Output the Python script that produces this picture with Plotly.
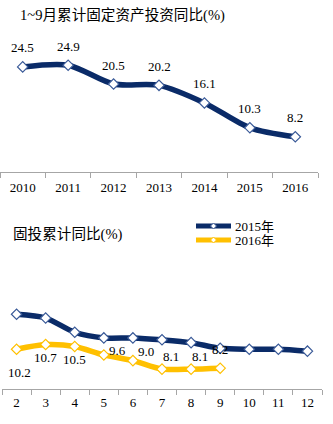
import plotly.graph_objects as go

# Top chart data
years = ["2010", "2011", "2012", "2013", "2014", "2015", "2016"]
fai_jan_sep = [24.5, 24.9, 20.5, 20.2, 16.1, 10.3, 8.2]

# Bottom chart data
months = ["2", "3", "4", "5", "6", "7", "8", "9", "10", "11", "12"]
fai_2015 = [13.9, 13.5, 12.0, 11.4, 11.4, 11.2, 10.9, 10.3, 10.2, 10.2, 10.0]
fai_2016 = [10.2, 10.7, 10.5, 9.6, 9.0, 8.1, 8.1, 8.2]
series_names = ["2015年", "2016年"]

title_top = "1~9月累计固定资产投资同比(%)"
title_bottom = "固投累计同比(%)"

NAVY = "#0a2b68"
GOLD = "#ffc000"
FONT = "Liberation Serif, Noto Sans CJK SC, serif"
W, H = 333, 424

def py(p):
    return 1 - p / H

def px(p):
    return p / W

fig = go.Figure()

fig.add_trace(go.Scatter(
    x=years, y=fai_jan_sep, mode="lines+markers",
    line=dict(color=NAVY, width=5.5, shape="spline", smoothing=0.8),
    marker=dict(symbol="diamond", size=8, color="white", line=dict(color="#3a5a98", width=1.2)),
    xaxis="x", yaxis="y", showlegend=False,
))

fig.add_trace(go.Scatter(
    x=months, y=fai_2015, mode="lines+markers", name=series_names[0],
    line=dict(color=NAVY, width=5.5, shape="spline", smoothing=0.8),
    marker=dict(symbol="diamond", size=8, color="white", line=dict(color="#3a5a98", width=1.2)),
    xaxis="x2", yaxis="y2", showlegend=False,
))
fig.add_trace(go.Scatter(
    x=months[:len(fai_2016)], y=fai_2016, mode="lines+markers", name=series_names[1],
    line=dict(color=GOLD, width=5.5, shape="spline", smoothing=0.8),
    marker=dict(symbol="diamond", size=8, color="white", line=dict(color=GOLD, width=1.2)),
    xaxis="x2", yaxis="y2", showlegend=False,
))

annotations = []
# top labels: above points (x given as category index)
for i, v in enumerate(fai_jan_sep):
    annotations.append(dict(x=i, y=v, xref="x", yref="y", text=f"{v:.1f}",
                            showarrow=False, yshift=19, xshift=0,
                            font=dict(family=FONT, size=13, color="black")))

# bottom labels for 2016 series
shifts = [(3, -23), (0, -13), (0, -13), (14, 4), (13, 9), (9, 13), (9, 13), (0, 19)]
for i, (v, (dx, dy)) in enumerate(zip(fai_2016, shifts)):
    annotations.append(dict(x=i, y=v, xref="x2", yref="y2", text=f"{v:.1f}",
                            showarrow=False, xshift=dx, yshift=dy,
                            font=dict(family=FONT, size=13, color="black")))

annotations.append(dict(x=px(18), y=py(16), xref="paper", yref="paper", text=title_top,
                        showarrow=False, xanchor="left", yanchor="middle",
                        font=dict(family=FONT, size=14.6, color="black")))
annotations.append(dict(x=px(11), y=py(234), xref="paper", yref="paper", text=title_bottom,
                        showarrow=False, xanchor="left", yanchor="middle",
                        font=dict(family=FONT, size=14.6, color="black")))

# manual legend
shapes = []
leg_rows = [(226, NAVY, "#3a5a98"), (240, GOLD, GOLD)]
for name, (ly, col, mcol) in zip(series_names, leg_rows):
    shapes.append(dict(type="line", xref="paper", yref="paper",
                       x0=px(196), x1=px(231), y0=py(ly), y1=py(ly),
                       line=dict(color=col, width=5)))
    cx, cy, r = 213.5, ly, 3
    path = (f"M {px(cx)} {py(cy - r)} L {px(cx + r)} {py(cy)} "
            f"L {px(cx)} {py(cy + r)} L {px(cx - r)} {py(cy)} Z")
    shapes.append(dict(type="path", xref="paper", yref="paper", path=path,
                       fillcolor="white", line=dict(color=mcol, width=1)))
    annotations.append(dict(x=px(233), y=py(ly), xref="paper", yref="paper", text=name,
                            showarrow=False, xanchor="left", yanchor="middle",
                            font=dict(family=FONT, size=13, color="black")))

axis_common = dict(
    type="category", showline=True, linecolor="#a6a6a6", linewidth=1,
    ticks="outside", tickson="boundaries", ticklen=5, tickcolor="#a6a6a6",
    showgrid=False, zeroline=False, fixedrange=True,
    tickfont=dict(family=FONT, size=13, color="black"),
)

fig.update_layout(
    width=W, height=H, margin=dict(l=0, r=0, t=0, b=0),
    paper_bgcolor="white", plot_bgcolor="white",
    xaxis=dict(axis_common, domain=[0, 318 / W], range=[-0.5, 6.5], anchor="y",
               ticklabelstandoff=3),
    yaxis=dict(domain=[py(172), py(172 - 30 * 4.29)], range=[0, 30], visible=False,
               fixedrange=True),
    xaxis2=dict(axis_common, domain=[2 / W, 322 / W], range=[-0.5, 10.5], anchor="y2",
                ticklabelstandoff=1),
    yaxis2=dict(domain=[py(389), py(389 - 9 * 9.46)], range=[6, 15], visible=False,
                fixedrange=True),
    annotations=annotations,
    shapes=shapes,
    showlegend=False,
)

fig.write_html("out.html")
